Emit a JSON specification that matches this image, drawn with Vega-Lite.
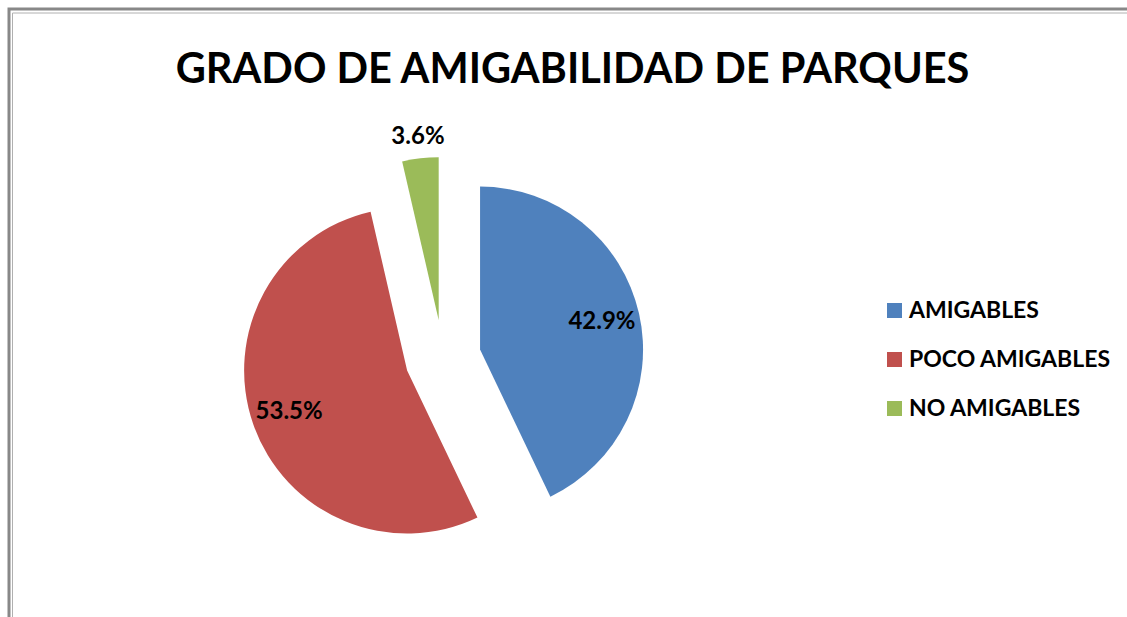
{
  "$schema": "https://vega.github.io/schema/vega-lite/v6.json",
  "autosize": {"type": "none"},
  "padding": {"left": 9, "top": 9, "right": 0, "bottom": 0},
  "width": 1127,
  "height": 620,
  "background": "white",
  "config": {
    "view": {"stroke": null},
    "font": "Lato"
  },
  "title": {
    "text": "GRADO DE AMIGABILIDAD DE PARQUES",
    "font": "Lato",
    "fontSize": 41.5,
    "fontWeight": "bold",
    "color": "#000000",
    "anchor": "middle",
    "frame": "group",
    "baseline": "alphabetic",
    "offset": -117
  },
  "data": {
    "values": [
      {"categoria": "AMIGABLES", "valor": 0.429, "orden": 1},
      {"categoria": "POCO AMIGABLES", "valor": 0.535, "orden": 2},
      {"categoria": "NO AMIGABLES", "valor": 0.036, "orden": 3}
    ]
  },
  "layer": [
    {
      "data": {"values": [{}]},
      "mark": {"type": "rect", "x": 0, "y": 0, "x2": "width", "y2": "height", "fill": null, "stroke": "#888888", "strokeWidth": 3},
      "encoding": {}
    },
    {
      "data": {"values": [{}]},
      "mark": {"type": "rect", "x": 3.5, "y": 4, "x2": "width", "y2": "height", "fill": null, "stroke": "#b0b0b0", "strokeWidth": 1},
      "encoding": {}
    },
    {
      "mark": {
        "type": "arc",
        "outerRadius": 163,
        "stroke": null,
        "x": {"expr": "434 + 38*sin(scale('theta', (datum.valor_start + datum.valor_end)/2))"},
        "y": {"expr": "349 - 38*cos(scale('theta', (datum.valor_start + datum.valor_end)/2))"}
      },
      "encoding": {
        "theta": {"field": "valor", "type": "quantitative", "stack": true},
        "order": {"field": "orden", "type": "quantitative"},
        "color": {
          "field": "categoria",
          "type": "nominal",
          "scale": {
            "domain": ["AMIGABLES", "POCO AMIGABLES", "NO AMIGABLES"],
            "range": ["#4f81bd", "#c0504d", "#9bbb59"]
          },
          "legend": {
            "title": null,
            "orient": "none",
            "legendX": 874,
            "legendY": 290,
            "padding": 0,
            "symbolType": "square",
            "symbolSize": 225,
            "symbolStrokeWidth": 0,
            "symbolOpacity": 1,
            "labelFont": "Lato",
            "labelFontSize": 23,
            "labelFontWeight": "bold",
            "labelColor": "#000000",
            "labelOffset": 3,
            "rowPadding": 25,
            "labelLimit": 400
          }
        }
      }
    },
    {
      "mark": {
        "type": "text",
        "font": "Lato",
        "fontSize": 24,
        "fontWeight": "bold",
        "color": "#000000",
        "radius": {"expr": "datum.valor < 0.1 ? 184 : 125"},
        "x": {"expr": "434 + 38*sin(scale('theta', (datum.valor_start + datum.valor_end)/2))"},
        "y": {"expr": "349 - 38*cos(scale('theta', (datum.valor_start + datum.valor_end)/2))"}
      },
      "encoding": {
        "theta": {"field": "valor", "type": "quantitative", "stack": true},
        "order": {"field": "orden", "type": "quantitative"},
        "text": {"field": "valor", "type": "quantitative", "format": ".1%"}
      }
    }
  ]
}
